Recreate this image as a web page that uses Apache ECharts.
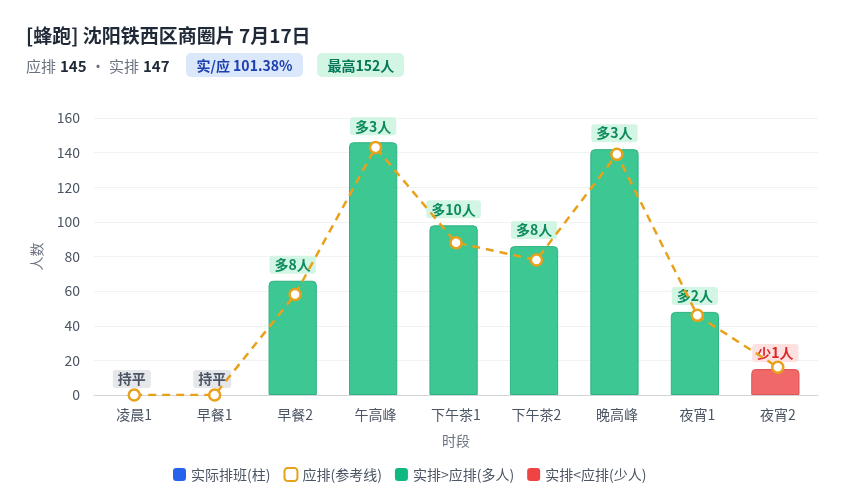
<!DOCTYPE html>
<html>
<head>
<meta charset="utf-8">
<script src="https://cdn.jsdelivr.net/npm/echarts@6/dist/echarts.min.js"></script>
<style>
  html, body { margin: 0; padding: 0; background: #fff; }
  body { width: 849px; height: 500px; position: relative; overflow: hidden;
         font-family: "Noto Sans CJK SC", "Noto Sans", sans-serif; }
  #head { position: absolute; left: 26px; top: 22px; z-index: 2; }
  #title { font-size: 19px; font-weight: bold; color: #1f2937; line-height: 26px; }
  #sub { margin-top: 5px; font-size: 15px; color: #6b7280; display: flex; align-items: center; }
  #sub b { color: #1f2937; margin: 0 4px; }
  .badge { display: inline-block; font-size: 14px; font-weight: bold; padding: 1px 11px;
           border-radius: 5px; line-height: 22px; margin-left: 12px; }
  .blue { background: #dbe7fb; color: #1e40af; }
  .green { background: #d3f5e4; color: #047857; margin-left: 14px; padding: 1px 10px; }
  #chart { position: absolute; left: 0; top: 0; width: 849px; height: 500px; }
</style>
</head>
<body>
<div id="head">
  <div id="title">[蜂跑] 沈阳铁西区商圈片 7月17日</div>
  <div id="sub">应排<b>145</b>· 实排<b>147</b>
    <span class="badge blue">实/应 101.38%</span>
    <span class="badge green">最高152人</span>
  </div>
</div>
<div id="chart"></div>
<script>
// 时段
const categories = ['凌晨1', '早餐1', '早餐2', '午高峰', '下午茶1', '下午茶2', '晚高峰', '夜宵1', '夜宵2'];
// 实际排班
const actual = [0, 0, 66, 146, 98, 86, 142, 48, 15];
// 应排
const planned = [0, 0, 58, 143, 88, 78, 139, 46, 16];

const GREEN = '#3dc793';
const RED = '#f06868';

const chart = echarts.init(document.getElementById('chart'));

const barData = actual.map((v, i) => {
  const diff = v - planned[i];
  let text, bg, fg;
  if (diff > 0) { text = '多' + diff + '人'; bg = '#d3f5e4'; fg = '#0b8a5c'; }
  else if (diff < 0) { text = '少' + (-diff) + '人'; bg = '#fde1e1'; fg = '#dc2626'; }
  else { text = '持平'; bg = '#e5e7eb'; fg = '#4b5563'; }
  return {
    value: v,
    itemStyle: {
      color: diff < 0 ? RED : GREEN,
      borderColor: diff < 0 ? '#e05555' : '#2fb381',
      borderWidth: v > 0 ? 1 : 0,
      borderRadius: [4, 4, 0, 0],
    },
    label: {
      show: true,
      position: 'top',
      distance: 7,
      formatter: text,
      backgroundColor: bg,
      color: fg,
      fontWeight: 'bold',
      fontSize: 14,
      padding: [2, 5],
      borderRadius: 3,
    },
  };
});

chart.setOption({
  textStyle: { fontFamily: '"Noto Sans CJK SC", "Noto Sans", sans-serif' },
  animation: false,
  grid: { left: 94, right: 31, top: 118, bottom: 105 },
  legend: {
    bottom: 13,
    left: 168,
    itemWidth: 13,
    itemHeight: 13,
    itemGap: 13,
    textStyle: { color: '#4b5563', fontSize: 14 },
    data: [
      { name: '实际排班(柱)', icon: 'roundRect', itemStyle: { color: '#2563eb' } },
      { name: '应排(参考线)', icon: 'roundRect', itemStyle: { color: '#fff', borderColor: '#e6a21a', borderWidth: 2 } },
      { name: '实排>应排(多人)', icon: 'roundRect', itemStyle: { color: '#10b981' } },
      { name: '实排<应排(少人)', icon: 'roundRect', itemStyle: { color: '#ef4444' } },
    ],
  },
  xAxis: {
    type: 'category',
    data: categories,
    name: '时段',
    nameLocation: 'middle',
    nameGap: 39,
    nameTextStyle: { color: '#6b7280', fontSize: 14 },
    axisLine: { lineStyle: { color: '#d1d5db' } },
    axisTick: { show: false },
    axisLabel: { color: '#4b5563', fontSize: 14, margin: 13 },
  },
  yAxis: {
    type: 'value',
    min: 0,
    max: 160,
    interval: 20,
    name: '人数',
    nameLocation: 'middle',
    nameGap: 50,
    nameTextStyle: { color: '#6b7280', fontSize: 14 },
    axisLine: { show: false },
    axisLabel: { color: '#4b5563', fontSize: 14, margin: 14 },
    splitLine: { lineStyle: { color: '#f1f2f4' } },
  },
  series: [
    {
      name: '实际排班(柱)',
      type: 'bar',
      barWidth: '60%',
      data: barData,
      z: 2,
    },
    {
      name: '应排(参考线)',
      type: 'line',
      data: planned,
      symbol: 'circle',
      symbolSize: 11,
      itemStyle: { color: '#fff', borderColor: '#e9a11b', borderWidth: 2.5 },
      lineStyle: { color: '#e9a11b', width: 2.5, type: [8, 6] },
      z: 3,
    },
    { name: '实排>应排(多人)', type: 'bar', data: [] },
    { name: '实排<应排(少人)', type: 'bar', data: [] },
  ],
});
</script>
</body>
</html>
